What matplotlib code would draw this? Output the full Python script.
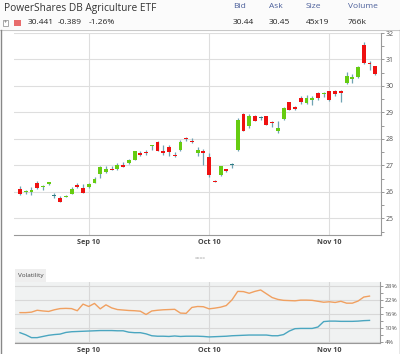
import matplotlib
matplotlib.use("Agg")
import matplotlib.pyplot as plt
from matplotlib.patches import Rectangle
from matplotlib.lines import Line2D

plt.rcParams['font.family'] = ['Open Sans', 'DejaVu Sans']

# daily candles, one per trading day (index 0..62)
opens = [26.10, 26.00, 26.01, 26.33, 26.19, 26.28, 25.85, 25.75, 25.81, 25.92,
         26.24, 26.13, 26.19, 26.35, 26.67, 26.74, 26.86, 26.87, 27.00, 27.08,
         27.21, 27.46, 27.51, 27.74, 27.90, 27.55, 27.71, 27.39, 27.59, 28.03,
         27.89, 27.46, 27.56, 27.30, 26.42, 26.64, 26.86, 27.00, 27.59, 28.95,
         28.50, 28.86, 28.79, 28.86, 28.61, 28.28, 28.75, 29.38, 29.20, 29.56,
         29.35, 29.46, 29.73, 29.69, 29.80, 29.81, 29.80, 30.11, 30.27, 30.34,
         31.56, 30.84, 30.74]
highs = [26.23, 26.08, 26.18, 26.40, 26.25, 26.39, 25.94, 25.85, 25.89, 26.19,
         26.35, 26.30, 26.33, 26.55, 26.98, 26.98, 26.98, 27.08, 27.13, 27.25,
         27.56, 27.53, 27.59, 27.78, 27.93, 27.78, 27.77, 27.49, 27.97, 28.06,
         28.02, 27.69, 27.61, 27.46, 26.44, 26.98, 26.88, 27.08, 28.79, 28.98,
         28.95, 28.90, 28.85, 28.88, 28.66, 28.66, 29.19, 29.40, 29.25, 29.61,
         29.66, 29.61, 29.78, 29.76, 29.82, 29.83, 29.86, 30.51, 30.44, 30.74,
         31.65, 30.93, 30.77]
lows = [25.87, 25.90, 25.89, 26.10, 26.06, 26.25, 25.77, 25.61, 25.79, 25.91,
        26.13, 25.96, 26.15, 26.33, 26.52, 26.73, 26.81, 26.83, 26.92, 27.06,
        27.20, 27.37, 27.40, 27.58, 27.54, 27.40, 27.36, 27.31, 27.56, 27.93,
        27.85, 27.34, 27.02, 26.55, 26.37, 26.58, 26.74, 26.90, 27.53, 28.28,
        28.41, 28.66, 28.70, 28.51, 28.45, 28.24, 28.72, 29.08, 29.10, 29.33,
        29.33, 29.29, 29.48, 29.58, 29.43, 29.61, 29.38, 30.07, 30.11, 30.31,
        30.84, 30.62, 30.43]
closes = [25.92, 26.05, 26.06, 26.15, 26.23, 26.37, 25.85, 25.62, 25.86, 26.09,
          26.18, 25.97, 26.29, 26.49, 26.95, 26.87, 26.82, 27.03, 26.93, 27.21,
          27.54, 27.39, 27.48, 27.77, 27.55, 27.45, 27.50, 27.34, 27.89, 27.99,
          27.87, 27.59, 27.46, 26.64, 26.38, 26.96, 26.77, 27.00, 28.70, 28.30,
          28.85, 28.69, 28.79, 28.52, 28.59, 28.41, 29.17, 29.10, 29.13, 29.40,
          29.56, 29.53, 29.53, 29.72, 29.46, 29.71, 29.73, 30.39, 30.34, 30.70,
          30.87, 30.82, 30.45]

# volatility series (percent), index 0..61
vol_high = [16.6, 16.6, 16.8, 17.6, 17.3, 17.1, 17.8, 18.3, 18.4, 18.3,
            17.4, 20.2, 19.2, 20.5, 18.2, 19.9, 18.6, 17.9, 17.7, 17.5,
            17.4, 17.2, 15.8, 17.3, 17.6, 17.8, 17.9, 18.0, 16.4, 16.3,
            18.8, 19.2, 19.1, 18.2, 18.5, 18.9, 19.6, 22.0, 25.6, 25.5,
            24.8, 25.6, 26.2, 24.6, 23.0, 22.2, 21.8, 21.7, 21.6, 21.9,
            21.9, 21.8, 21.4, 21.0, 21.2, 20.9, 21.4, 20.6, 20.6, 21.5,
            23.2, 23.6]
vol_low = [8.1, 7.2, 6.0, 6.0, 6.5, 7.0, 7.3, 7.5, 8.2, 8.5,
           8.6, 8.7, 8.8, 8.9, 9.0, 9.0, 9.0, 8.9, 8.9, 8.3,
           8.1, 8.1, 7.6, 6.8, 6.6, 6.6, 6.5, 6.7, 6.5, 6.6,
           6.6, 6.6, 6.5, 6.3, 6.4, 6.5, 6.6, 6.8, 6.9, 7.0,
           7.1, 7.1, 7.1, 7.1, 6.8, 6.8, 7.3, 8.8, 9.8, 9.9,
           9.9, 9.9, 10.5, 12.8, 13.0, 13.0, 12.9, 12.9, 12.9, 13.0,
           13.2, 13.3]

date_ticks = [12, 33, 54]
date_labels = ["Sep 10", "Oct 10", "Nov 10"]
price_ticks = [25, 26, 27, 28, 29, 30, 31, 32]
vol_ticks = [4, 10, 16, 22, 28]

GREEN = "#66cc11"
RED = "#ee1111"
WICK = "#6fa3b3"
DOJI = "#2f7f86"

W, H = 400, 354
fig = plt.figure(figsize=(W / 100, H / 100), dpi=100)
fig.patch.set_facecolor("white")


def fx(px):
    return px / W


def fy(py):
    return 1 - py / H


# header
fig.patches.append(Rectangle((0, fy(29)), 1, 29 / H, transform=fig.transFigure,
                             facecolor="#fbfbfb", edgecolor="none", zorder=0))
fig.lines.append(Line2D([0, 1], [fy(29.5)] * 2, transform=fig.transFigure, color="#c8c8c8", lw=0.8))
fig.lines.append(Line2D([fx(0.5)] * 2, [fy(29.5), 0], transform=fig.transFigure, color="#888888", lw=1))
fig.lines.append(Line2D([fx(399.5)] * 2, [fy(29.5), 0], transform=fig.transFigure, color="#888888", lw=1))

fig.text(fx(4), fy(9), "PowerShares DB Agriculture ETF", fontsize=7.3, color="#333333", va="center")
hdr = [("Bid", "30.44", 233), ("Ask", "30.45", 269), ("Size", "45x19", 306), ("Volume", "766k", 348)]
for lab, val, x in hdr:
    fig.text(fx(x), fy(6.5), lab, fontsize=6, color="#4a5e9a", va="center")
    fig.text(fx(x), fy(22.7), val, fontsize=6, color="#222222", va="center")
fig.patches.append(Rectangle((fx(2.7), fy(25.5)), 5.5 / W, 5.5 / H, transform=fig.transFigure,
                             facecolor="white", edgecolor="#888888", lw=0.5))
fig.text(fx(5.45), fy(22.6), "+", fontsize=4, color="#555555", ha="center", va="center")
fig.patches.append(Rectangle((fx(14.5), fy(25.8)), 6 / W, 6 / H, transform=fig.transFigure,
                             facecolor="#e86c6c", edgecolor="none"))
for txt, x in [("30.441", 28), ("-0.389", 58), ("-1.26%", 89)]:
    fig.text(fx(x), fy(22.7), txt, fontsize=6, color="#222222", va="center")

# price panel
ax = fig.add_axes([fx(14), fy(235), (381 - 14) / W, (235 - 33) / H])
ax.set_xlim(-1.05, 63.0)
ax.set_ylim(24.37, 32.0)
ax.set_yticks(price_ticks)
ax.set_yticks([v + 0.5 for v in price_ticks[:-1]] + [24.5], minor=True)
ax.yaxis.tick_right()
ax.set_xticks(date_ticks)
ax.set_xticklabels(date_labels)
ax.grid(True, which="major", color="#dedede", lw=0.8)
ax.set_axisbelow(True)
for s in ["left", "top"]:
    ax.spines[s].set_visible(False)
for s in ["right", "bottom"]:
    ax.spines[s].set_color("#999999")
    ax.spines[s].set_linewidth(0.8)
ax.tick_params(axis="y", which="both", direction="out", length=2, width=0.6, color="#888888",
               labelsize=5, labelcolor="#555555", pad=1.5)
ax.tick_params(axis="x", length=0, labelsize=5.2, labelcolor="#444444", pad=3)
for t in ax.get_xticklabels():
    t.set_fontweight("bold")

bw = 0.68
for i in range(len(opens)):
    o, h, l, c = opens[i], highs[i], lows[i], closes[i]
    ax.vlines(i, l, h, color=WICK, lw=0.9, zorder=2)
    if c > o:
        col = GREEN
    elif c < o:
        col = RED
    else:
        col = DOJI
    bot = min(o, c)
    hgt = max(abs(c - o), 0.035)
    ax.add_patch(Rectangle((i - bw / 2, bot), bw, hgt, facecolor=col, edgecolor="none", zorder=3))

# drag handle
fig.text(fx(200), fy(259), "====", fontsize=3.5, color="#999999", ha="center", va="center")

# volatility tab
fig.patches.append(Rectangle((fx(15), fy(281.5)), 31 / W, 13 / H, transform=fig.transFigure,
                             facecolor="#eeeeee", edgecolor="none"))
fig.text(fx(17.5), fy(275), "Volatility", fontsize=4.6, color="#444444", va="center")

# volatility panel
ax2 = fig.add_axes([fx(15), fy(343.3), (380 - 15) / W, (343.3 - 281.7) / H])
ax2.set_facecolor("#f0f2f2")
ax2.set_xlim(-0.87, 62.83)
ax2.set_ylim(3.6, 29.7)
ax2.set_yticks(vol_ticks)
ax2.set_yticklabels([f"{v}%" for v in vol_ticks])
ax2.set_yticks([7, 13, 19, 25], minor=True)
ax2.yaxis.tick_right()
ax2.set_xticks(date_ticks)
ax2.set_xticklabels(date_labels)
ax2.grid(True, which="major", color="#d8d8d8", lw=0.8)
ax2.set_axisbelow(True)
for s in ["left", "top"]:
    ax2.spines[s].set_visible(False)
for s in ["right", "bottom"]:
    ax2.spines[s].set_color("#999999")
    ax2.spines[s].set_linewidth(0.8)
ax2.tick_params(axis="y", which="both", direction="out", length=2, width=0.6, color="#888888",
                labelsize=4.6, labelcolor="#555555", pad=1.5)
ax2.tick_params(axis="x", length=0, labelsize=5.2, labelcolor="#444444", pad=3)
for t in ax2.get_xticklabels():
    t.set_fontweight("bold")

ax2.plot(range(len(vol_high)), vol_high, color="#f0a060", lw=1.0)
ax2.plot(range(len(vol_low)), vol_low, color="#4aa6c0", lw=1.0)

fig.savefig("out.png", dpi=100)
